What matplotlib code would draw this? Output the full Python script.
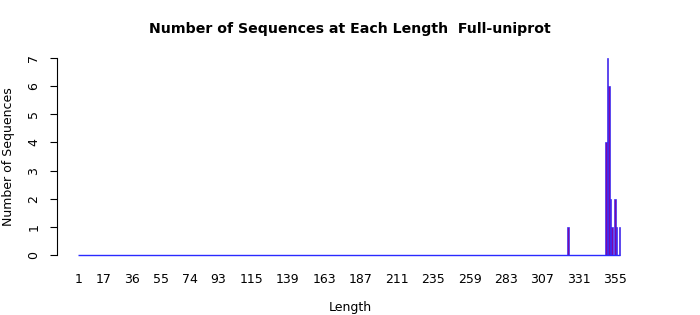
import matplotlib

matplotlib.use("Agg")
import matplotlib.pyplot as plt
import numpy as np

# sequence lengths shown on the x axis (one bar per length)
lengths = np.arange(1, 359)
# lengths that actually have sequences, and how many
peak_lengths = [324, 349, 350, 351, 352, 353, 355, 356, 358]
peak_counts = [1, 4, 7, 6, 2, 1, 2, 1, 1]
tick_lengths = [1, 17, 36, 55, 74, 93, 115, 139, 163, 187, 211, 235, 259,
                283, 307, 331, 355]
y_ticks = [0, 1, 2, 3, 4, 5, 6, 7]

counts = np.zeros(len(lengths))
for L, c in zip(peak_lengths, peak_counts):
    counts[L - lengths[0]] = c

W, H = 700, 315
fig = plt.figure(figsize=(W / 100, H / 100), dpi=100)
ax = fig.add_axes([57 / W, 1 - 263 / H, (640 - 57) / W, (263 - 50) / H])

nz = counts > 0
ax.bar(lengths[nz], counts[nz], width=0.8, color="#7a08a8", edgecolor="#2a2aff",
       linewidth=0.45)
# zero-height bars collapse to the blue border line along the base
ax.hlines(0, lengths[0] - 0.4, lengths[-1] + 0.4, color="#2a2aff", linewidth=1.0)

ax.set_xlim(-13.5, 371.5)
ax.set_ylim(-0.28, 7.28)

for s in ["top", "right", "bottom"]:
    ax.spines[s].set_visible(False)
ax.spines["left"].set_bounds(0, 7)
ax.spines["left"].set_linewidth(0.8)

ax.set_xticks(tick_lengths)
ax.set_xticklabels([str(t) for t in tick_lengths], fontsize=9)
ax.tick_params(axis="x", length=0, pad=7)

ax.set_yticks(y_ticks)
ax.set_yticklabels([str(t) for t in y_ticks], fontsize=9, rotation=90,
                   va="center")
ax.tick_params(axis="y", length=5, width=0.8, pad=7)

fig.text(350 / W, 1 - 29 / H, "Number of Sequences at Each Length  Full-uniprot",
         ha="center", va="center", fontsize=10.2, fontweight="bold")
fig.text(350 / W, 1 - 307 / H, "Length", ha="center", va="center", fontsize=9)
fig.text(9 / W, 1 - 157 / H, "Number of Sequences", ha="center", va="center",
         rotation=90, fontsize=9)

fig.savefig("out.png", dpi=100)
